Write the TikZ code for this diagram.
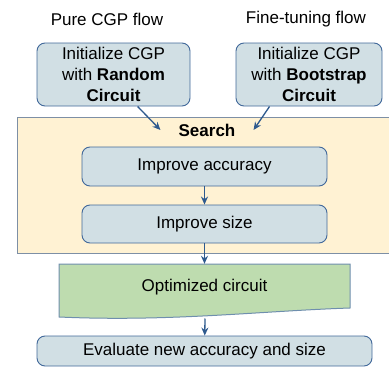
\documentclass[tikz,border=0pt]{standalone}
\usepackage{fontspec}
\setmainfont{Liberation Sans}
\usetikzlibrary{arrows.meta,positioning}
\definecolor{boxfill}{HTML}{D1DFE4}
\definecolor{boxline}{HTML}{41689A}
\definecolor{searchfill}{HTML}{FFF2D3}
\definecolor{searchline}{HTML}{7D8FA5}
\definecolor{optfill}{HTML}{BEDCAF}
\definecolor{optline}{HTML}{6F8FAE}
\definecolor{arrowblue}{HTML}{2E5A8E}
\tikzset{
  stage/.style={draw=boxline,fill=boxfill,rounded corners=8pt,line width=0.9pt,align=center,inner sep=0pt},
  flow/.style={-{Stealth[length=8pt,width=7pt]},line width=1.3pt,arrowblue},
  region/.style={searchline,line width=1pt}
}

\begin{document}
\begin{tikzpicture}[x=1pt,y=-1pt,font=\fontsize{17}{21}\selectfont]
      \useasboundingbox (0,0) rectangle (389,367);

      % search region, open to the right
      \fill[searchfill] (17,117) rectangle (389,253);
      \draw[region] (389,117) -- (17,117) -- (17,253) -- (389,253);

      \node (pure) at (107,19) {Pure CGP flow};
      \node (fine) at (306,19) {Fine-tuning flow};

      \node[stage,minimum width=153,minimum height=63] (init1) at (113.5,74.5)
        {Initialize CGP\\with \textbf{Random}\\\textbf{Circuit}};
      \node[stage,minimum width=146,minimum height=63] (init2) at (309,74.5)
        {Initialize CGP\\with \textbf{Bootstrap}\\\textbf{Circuit}};

      \node[inner xsep=18pt] (search) at (207,130) {\textbf{Search}};
      \node[stage,minimum width=245,minimum height=39] (acc) at (204.5,166.5) {Improve accuracy};
      \node[stage,minimum width=245,minimum height=38] (size) at (204.5,224) {Improve size};

      % document shape for the result
      \draw[optline,line width=1pt,fill=optfill] (59,264) -- (350,264) -- (350,308)
        .. controls (260,311) and (170,322) .. (59,317) -- cycle;
      \node[minimum width=291,minimum height=46,inner sep=0pt] (opt) at (204.5,287) {Optimized circuit};
      \coordinate (optbot) at (205,318.5);

      \node[stage,minimum width=335,minimum height=30] (eval) at (204.5,351) {Evaluate new accuracy and size};

      \draw[flow] (init1.307) -- (search.west);
      \draw[flow] (init2.219) -- (search.east);
      \draw[flow] (acc) -- (size);
      \draw[flow] (size) -- (opt);
      \draw[flow] (optbot) -- (eval);
\end{tikzpicture}
\end{document}
